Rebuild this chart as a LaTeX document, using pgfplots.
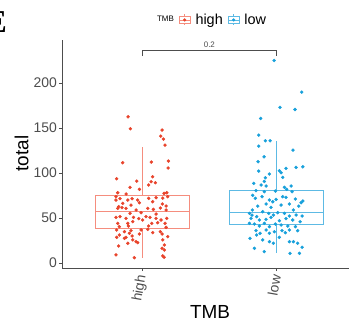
\documentclass[border=0pt]{standalone}
\usepackage{fontspec}
\setmainfont{Liberation Sans}
\newfontfamily\serifE{Liberation Serif}
\usepackage{pgfplots}
\pgfplotsset{compat=1.18}
\definecolor{ptred}{HTML}{E8432B}
\definecolor{boxred}{HTML}{F58D7E}
\definecolor{ptblue}{HTML}{17A0DB}
\definecolor{boxblue}{HTML}{5DBAE4}
\definecolor{axgrey}{HTML}{4D4D4D}
\begin{document}
\begin{tikzpicture}
\useasboundingbox (0,0) rectangle (349bp,324bp);
\clip (0,0) rectangle (349bp,324bp);
\node[anchor=east, inner sep=0pt, font=\serifE\fontsize{32}{32}\selectfont\bfseries] at (7bp,302bp) {E};
\begin{axis}[
  at={(62bp,56bp)}, anchor=south west,
  width=287bp, height=228bp, scale only axis,
  xmin=0.4, xmax=2.542, ymin=-5.6, ymax=248,
  axis lines=left, axis line style={-, draw=axgrey, line width=0.7pt},
  tick align=outside, major tick length=3bp,
  tick style={draw=axgrey, line width=0.7pt},
  xtick={1,2}, xticklabels={high,low},
  ytick={0,50,100,150,200},
  /pgf/number format/assume math mode=true,
  ticklabel style={font=\fontsize{14}{14}\selectfont, text=axgrey},
  xticklabel style={yshift=-3bp, rotate=80, anchor=east, inner sep=1pt},
  yticklabel style={inner sep=2pt},
  xlabel={TMB}, ylabel={total},
  label style={font=\fontsize{19}{19}\selectfont},
  xlabel style={at={(axis description cs:0.516,-0.191)}, anchor=center},
  ylabel style={at={(axis description cs:-0.141,0.502)}, anchor=center},
  clip=false,
  legend columns=-1,
  legend style={at={(axis description cs:0.516,1.088)}, anchor=center, draw=none, fill=none,
    font=\fontsize{14.5}{14.5}\selectfont, column sep=3pt, inner sep=0pt,
    nodes={inner xsep=2pt}},
]
\addlegendimage{empty legend}
\addlegendentry{\fontsize{8}{8}\selectfont TMB}
% high box
\addplot[boxred, line width=0.8pt, forget plot] coordinates {(0.65,39) (1.35,39) (1.35,75.5) (0.65,75.5) (0.65,39)};
\addplot[boxred, line width=0.8pt, forget plot] coordinates {(0.65,57) (1.35,57)};
\addplot[boxred, line width=0.8pt, forget plot] coordinates {(1,75.5) (1,128.5)};
\addplot[boxred, line width=0.8pt, forget plot] coordinates {(1,39) (1,6)};
% low box
\addplot[boxblue, line width=0.8pt, forget plot] coordinates {(1.65,43.3) (2.35,43.3) (2.35,80.7) (1.65,80.7) (1.65,43.3)};
\addplot[boxblue, line width=0.8pt, forget plot] coordinates {(1.65,56) (2.35,56)};
\addplot[boxblue, line width=0.8pt, forget plot] coordinates {(2,80.7) (2,135.5)};
\addplot[boxblue, line width=0.8pt, forget plot] coordinates {(2,43.3) (2,10.8)};
\addplot[only marks, mark=*, mark size=1.5bp, color=ptred, mark options={draw=ptred, fill=ptred},
  legend image code/.code={
    \draw[boxred, line width=0.7pt] (0bp,-3.5bp) rectangle (11bp,3.5bp);
    \draw[boxred, line width=0.7pt] (0bp,0bp) -- (11bp,0bp);
    \draw[boxred, line width=0.7pt] (5.5bp,3.5bp) -- (5.5bp,5.5bp) (5.5bp,-3.5bp) -- (5.5bp,-5.5bp);
    \fill[ptred] (5.5bp,0bp) circle (1.4bp);
  }] table {
x y
0.893 162.6
0.910 149.3
1.147 147.8
1.137 141.1
1.157 137.8
1.169 131.1
0.853 111.5
1.067 112.2
1.194 113.3
1.192 105.6
0.808 93.7
0.958 91.1
1.077 95.9
1.065 90.4
0.908 84.1
1.047 86.7
1.097 89.3
0.816 78.1
0.878 76.7
0.978 81.9
1.162 77.4
1.182 78.1
0.803 73.7
0.833 71.5
0.891 70.0
0.923 71.5
0.965 70.0
1.047 71.9
1.102 72.6
1.152 72.2
1.189 73.7
0.803 70.0
0.853 66.3
0.823 62.6
0.915 64.4
0.978 67.0
1.077 68.1
1.149 65.6
1.177 63.3
0.816 60.7
0.848 61.5
0.878 60.7
0.953 58.9
1.040 60.7
1.082 59.6
1.134 61.1
1.177 58.9
0.803 50.7
0.833 51.5
0.878 49.6
0.933 50.7
0.973 49.3
1.027 51.5
1.057 50.7
1.102 49.6
1.139 47.8
1.182 49.6
0.816 44.1
0.891 44.1
0.928 45.9
1.002 47.8
1.070 44.1
1.114 44.8
1.169 44.1
0.828 40.4
0.896 41.1
1.047 41.1
1.177 39.6
0.808 36.7
0.866 34.8
0.915 35.9
0.990 36.7
1.040 37.4
1.134 34.8
0.828 31.1
0.903 33.0
0.923 30.0
0.978 32.2
1.147 32.2
1.189 29.3
0.808 28.5
0.878 28.5
0.928 25.6
0.953 23.7
0.965 22.6
1.152 25.6
0.823 18.9
1.164 20.0
1.147 16.3
0.803 8.9
0.940 5.9
1.152 7.8
1.162 6.3
1.164 14.4
0.891 21.9
0.866 27.4
1.077 33.7
1.102 54.4
0.990 55.9
0.908 55.2
};
\addlegendentry{high}
\addplot[only marks, mark=*, mark size=1.5bp, color=ptblue, mark options={draw=ptblue, fill=ptblue},
  legend image code/.code={
    \draw[boxblue, line width=0.7pt] (0bp,-3.5bp) rectangle (11bp,3.5bp);
    \draw[boxblue, line width=0.7pt] (0bp,0bp) -- (11bp,0bp);
    \draw[boxblue, line width=0.7pt] (5.5bp,3.5bp) -- (5.5bp,5.5bp) (5.5bp,-3.5bp) -- (5.5bp,-5.5bp);
    \fill[ptblue] (5.5bp,0bp) circle (1.4bp);
  }] table {
x y
1.983 225.2
2.189 190.0
2.027 173.0
2.139 170.7
1.883 160.7
1.868 142.2
1.918 135.9
1.953 135.9
1.868 130.0
2.124 125.6
1.908 118.1
1.863 112.6
2.072 105.2
2.147 106.3
2.197 107.0
1.868 102.2
2.022 102.6
2.035 100.4
1.918 94.8
1.948 98.9
2.047 95.2
1.831 88.5
1.886 86.7
1.923 85.6
2.060 84.1
2.077 81.9
1.848 80.4
1.910 79.3
1.993 80.0
2.117 79.3
1.843 71.9
1.893 73.7
1.948 70.0
1.998 70.7
2.072 73.0
2.142 71.1
2.197 68.9
1.861 63.3
1.923 65.6
1.960 61.9
2.035 64.4
2.097 65.6
2.167 63.3
2.184 67.0
1.799 55.2
1.818 53.3
1.853 51.5
1.898 57.0
1.943 55.2
1.978 53.3
2.010 55.9
2.060 55.2
2.097 52.2
2.147 53.3
2.192 52.2
1.811 49.6
1.873 47.8
1.923 48.5
1.960 50.7
2.022 47.0
2.072 49.3
2.122 47.8
1.836 43.3
1.873 41.1
1.910 44.1
1.948 40.4
1.993 43.3
2.035 42.2
2.085 41.1
2.142 40.4
1.848 35.9
1.923 36.7
1.985 34.8
2.042 35.9
2.097 36.7
2.159 35.9
1.853 31.1
1.948 33.0
1.803 27.4
1.898 25.6
1.948 23.7
2.097 23.7
2.127 23.7
2.159 21.9
1.836 16.3
1.910 12.6
2.102 10.7
2.172 10.7
2.192 17.4
1.978 21.9
2.022 28.5
1.878 33.0
2.067 33.7
1.799 44.1
2.177 45.9
1.821 58.9
2.127 58.9
1.973 68.1
1.910 90.7
2.110 85.6
2.047 73.7
1.823 75.2
};
\addlegendentry{low}
\draw[axgrey, line width=0.6pt] (axis cs:1,230) -- (axis cs:1,236.7) -- (axis cs:2,236.7) -- (axis cs:2,230);
\node[font=\fontsize{8}{8}\selectfont, text=axgrey] at (axis cs:1.5,242.5) {0.2};
\end{axis}
\end{tikzpicture}
\end{document}
